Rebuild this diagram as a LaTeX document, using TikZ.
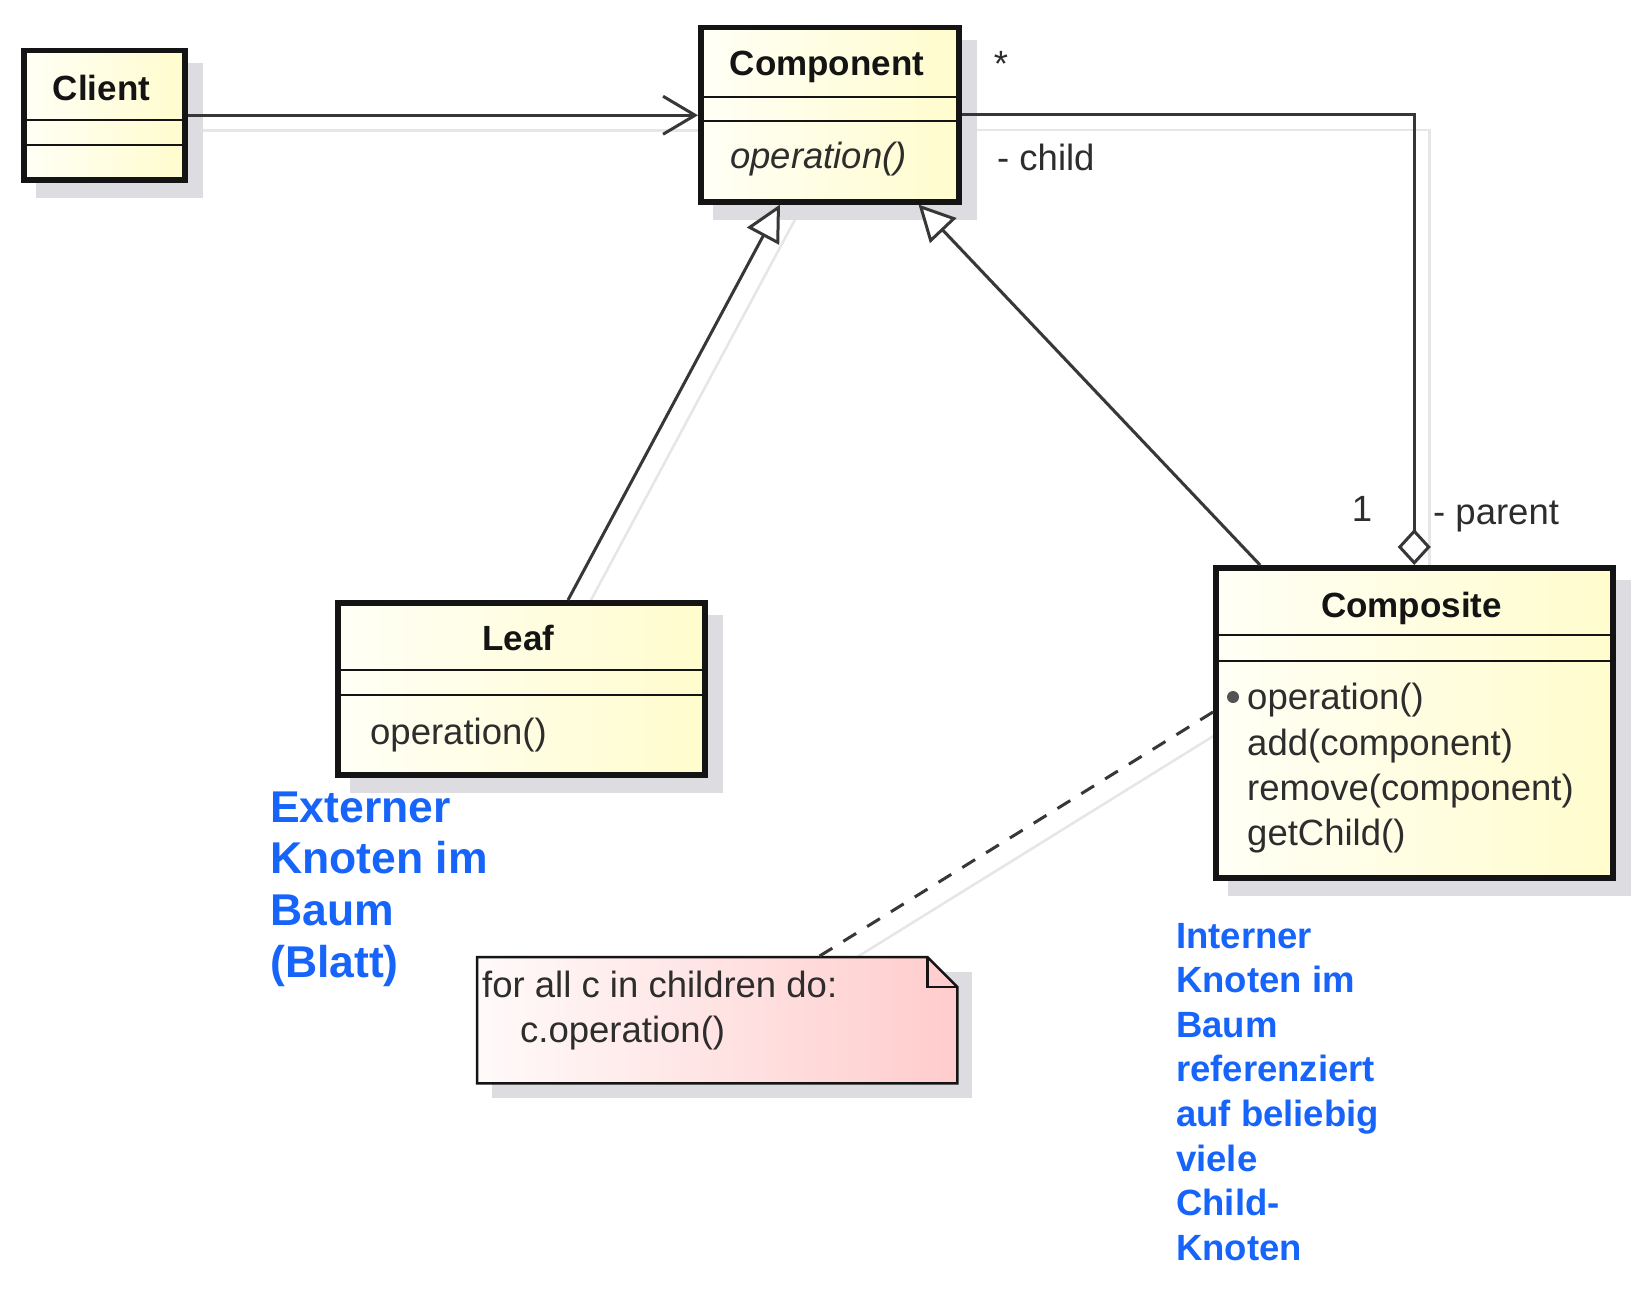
\documentclass[tikz,border=0pt]{standalone}
\usepackage{fontspec}
\setmainfont{Liberation Sans}
\usetikzlibrary{arrows.meta,calc,backgrounds}
\definecolor{boxL}{RGB}{255,255,246}
\definecolor{boxR}{RGB}{255,252,205}
\definecolor{noteL}{RGB}{255,250,250}
\definecolor{noteR}{RGB}{255,204,204}
\definecolor{shadowc}{RGB}{221,221,225}
\definecolor{lineshadow}{RGB}{230,230,232}
\definecolor{bluetxt}{RGB}{22,100,250}
\definecolor{inkc}{RGB}{20,20,20}
\definecolor{memc}{RGB}{45,45,45}
\begin{document}
\begin{tikzpicture}[x=1pt,y=-1pt,
  classbox/.style={draw=inkc, line width=5.5pt, left color=boxL, right color=boxR,
    inner sep=0pt, anchor=north west},
  divider/.style={line width=2.5pt, draw=inkc},
  titletxt/.style={font=\fontsize{35}{42}\selectfont\bfseries, inner sep=0pt, anchor=base, text=inkc},
  member/.style={font=\fontsize{36.5}{44}\selectfont, inner sep=0pt, anchor=base west, text=memc},
  conn/.style={line width=3pt, draw=inkc!85},
  gen/.style={conn, -{Triangle[fill=white, length=36pt, width=36pt, line width=3pt]}},
  lshadow/.style={line width=2.5pt, draw=lineshadow},
  bluebig/.style={font=\fontsize{44.5}{51.7}\selectfont\bfseries, text=bluetxt, inner sep=0pt, anchor=base west},
  bluesmall/.style={font=\fontsize{36.5}{44.6}\selectfont\bfseries, text=bluetxt, inner sep=0pt, anchor=base west}
]
\useasboundingbox (0,0) rectangle (1640,1290);

% class boxes
\node[classbox, minimum width=161pt, minimum height=129pt] (client) at (21,48) {};
\node[classbox, minimum width=258pt, minimum height=174pt] (component) at (698,25) {};
\node[classbox, minimum width=367pt, minimum height=172pt] (leaf) at (335,600) {};
\node[classbox, minimum width=397pt, minimum height=310pt] (composite) at (1213,565) {};
\node[inner sep=0pt, minimum width=480pt, minimum height=126pt, anchor=north west] (note) at (477,957) {};

% note shape
\shade[left color=noteL, right color=noteR, draw=inkc, line width=2.5pt]
  (note.north west) -- ($(note.north east)+(-30,0)$) -- ($(note.north east)+(0,30)$)
  -- (note.south east) -- (note.south west) -- cycle;
\draw[line width=2.5pt, draw=inkc] ($(note.north east)+(-30,0)$) -- ($(note.north east)+(-30,30)$) -- ($(note.north east)+(0,30)$);

% dividers
\draw[divider] ($(client.north west)+(0,72)$) -- ($(client.north east)+(0,72)$);
\draw[divider] ($(client.north west)+(0,97)$) -- ($(client.north east)+(0,97)$);
\draw[divider] ($(component.north west)+(0,72)$) -- ($(component.north east)+(0,72)$);
\draw[divider] ($(component.north west)+(0,96)$) -- ($(component.north east)+(0,96)$);
\draw[divider] ($(leaf.north west)+(0,70)$) -- ($(leaf.north east)+(0,70)$);
\draw[divider] ($(leaf.north west)+(0,95)$) -- ($(leaf.north east)+(0,95)$);
\draw[divider] ($(composite.north west)+(0,70)$) -- ($(composite.north east)+(0,70)$);
\draw[divider] ($(composite.north west)+(0,96)$) -- ($(composite.north east)+(0,96)$);

% texts in boxes
\node[titletxt] (clientT) at (101.5,100) {Client};
\node[titletxt] (compT) at (827,75) {Component};
\node[member, font=\fontsize{36.5}{44}\selectfont\itshape] (compOp) at (730,168) {operation()};
\node[titletxt] (leafT) at (518.5,650) {Leaf};
\node[member] (leafOp) at (370,744) {operation()};
\node[titletxt] (compoT) at (1411.5,617) {Composite};
\node[circle, fill=gray!65!black, minimum size=12pt, inner sep=0pt] (bullet) at (1233,697) {};
\node[member] (op1) at (1247,709) {operation()};
\node[member] (op2) at (1247,755) {add(component)};
\node[member] (op3) at (1247,800) {remove(component)};
\node[member] (op4) at (1247,845) {getChild()};
\node[member] (n1) at (482,997) {for all c in children do:};
\node[member] (n2) at (520,1042) {c.operation()};

% role labels
\node[member, anchor=base] (star) at (1001,76) {*};
\node[member] (childL) at (997,170) {- child};
\node[member, anchor=base] (oneL) at (1362,521) {1};
\node[member] (parentL) at (1433,524) {- parent};

% blue annotations
\node[bluebig] (ext) at (270,822) {\begin{tabular}[t]{@{}l@{}}Externer\\Knoten im\\Baum\\(Blatt)\end{tabular}};
\node[bluesmall] (int) at (1176,948) {\begin{tabular}[t]{@{}l@{}}Interner\\Knoten im\\Baum\\referenziert\\auf beliebig\\viele\\Child-\\Knoten\end{tabular}};

% connectors
\draw[conn, -{Straight Barb[length=32pt, width=38pt, line width=3pt]}] (client.east) -- (client.east -| component.west);
\draw[conn, {Diamond[fill=white, length=36pt, width=33pt, line width=3pt]}-] (composite.north) |- (component.east);
\draw[gen] ($(leaf.north west)+(233,0)$) -- ($(component.south west)+(82,0)$);
\draw[gen] ($(composite.north west)+(47,0)$) -- ($(component.south east)+(-43,0)$);
\draw[conn, dash pattern=on 15pt off 13pt] ($(composite.north west)+(0,147)$) -- ($(note.north west)+(341,0)$);

% shadows
\begin{scope}[on background layer]
\fill[white] (0,0) rectangle (1640,1290);
\draw[lshadow] ($(client.east)+(15,15)$) -- ($(client.east -| component.west)+(15,15)$);
\draw[lshadow] ($(component.east)+(15,15)$) -| ($(composite.north)+(15,15)$);
\draw[lshadow] ($(leaf.north west)+(248,15)$) -- ($(component.south west)+(97,15)$);
\draw[lshadow] ($(composite.north west)+(62,15)$) -- ($(component.south east)+(-28,15)$);
\draw[lshadow] ($(composite.north west)+(15,162)$) -- ($(note.north west)+(356,15)$);
\fill[shadowc] ($(client.north west)+(15,15)$) rectangle ($(client.south east)+(15,15)$);
\fill[shadowc] ($(component.north west)+(15,15)$) rectangle ($(component.south east)+(15,15)$);
\fill[shadowc] ($(leaf.north west)+(15,15)$) rectangle ($(leaf.south east)+(15,15)$);
\fill[shadowc] ($(composite.north west)+(15,15)$) rectangle ($(composite.south east)+(15,15)$);
\fill[shadowc] ($(note.north west)+(15,15)$) rectangle ($(note.south east)+(15,15)$);
\end{scope}
\end{tikzpicture}
\end{document}
